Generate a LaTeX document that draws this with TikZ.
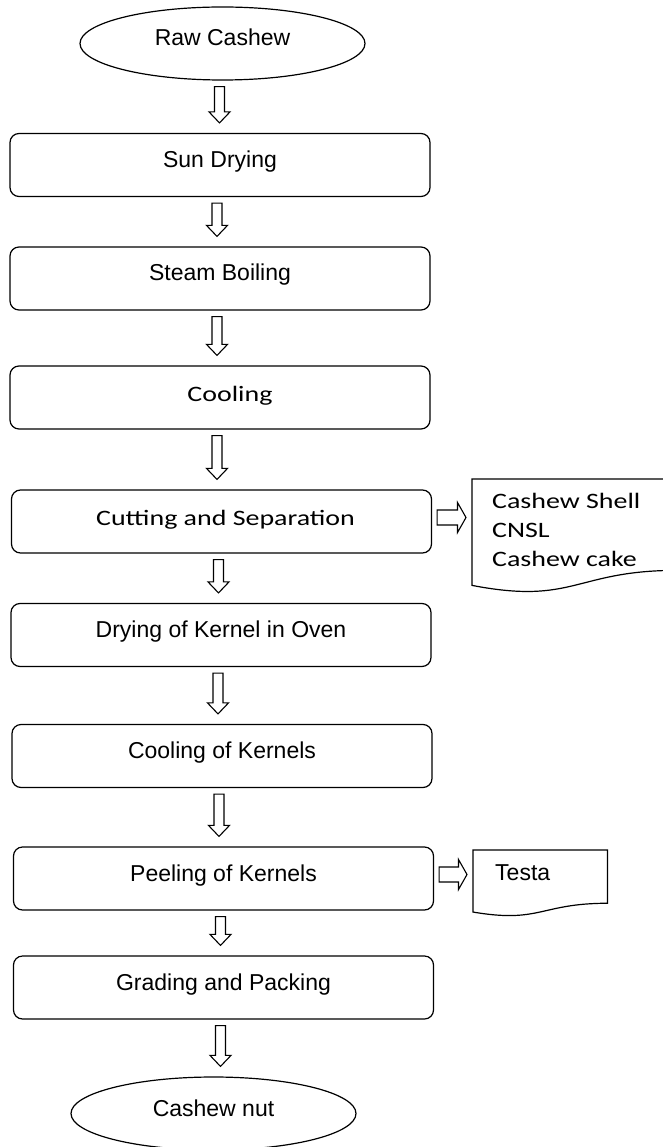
\documentclass[tikz,border=0pt]{standalone}
\usepackage{fontspec}
\usetikzlibrary{shapes.geometric,calc}
\newfontfamily\arialfont{Liberation Sans}
\newfontfamily\calibrifont[FakeStretch=1.27]{Carlito}

% hollow block arrow, downwards from one stage to the next
\newcommand{\downflow}[2]{%
  \draw[flowarrow] let \p1=($(#1.south)+(-3pt,-6pt)$), \p2=($(#2.north)+(-3pt,10pt)$) in
    (\x1-5pt,\y1) -- (\x1+5pt,\y1) -- (\x1+5pt,\y2+11pt) -- (\x1+10.5pt,\y2+11pt)
    -- (\x1,\y2) -- (\x1-10.5pt,\y2+11pt) -- (\x1-5pt,\y2+11pt) -- cycle;}
% hollow block arrow, sideways to a by-product
\newcommand{\sideflow}[2]{%
  \draw[flowarrow] let \p1=($(#1.east)+(5pt,4pt)$), \p2=($(#2.west)+(-6pt,0pt)$) in
    (\x1,\y1-7.5pt) -- (\x1,\y1+7.5pt) -- (\x2-8.5pt,\y1+7.5pt) -- (\x2-8.5pt,\y1+15pt)
    -- (\x2,\y1) -- (\x2-8.5pt,\y1-15pt) -- (\x2-8.5pt,\y1-7.5pt) -- cycle;}

\begin{document}
\begin{tikzpicture}[x=1pt, y=-1pt,
  stage/.style={draw, line width=1.2pt, rounded corners=9pt, minimum width=420pt, minimum height=63pt,
    text height=17pt, text depth=12pt, font=\arialfont\fontsize{23}{27}\selectfont},
  stagecal/.style={stage, text height=20pt, font=\calibrifont\fontsize{22}{29}\selectfont},
  terminal/.style={draw, line width=1.2pt, ellipse, inner sep=0pt, minimum width=285pt, minimum height=73pt,
    text height=17pt, text depth=12pt, font=\arialfont\fontsize{23}{27}\selectfont},
  flowarrow/.style={draw, line width=1.1pt, fill=white, line join=miter},
  docframe/.style={inner sep=0pt, anchor=north west},
  docline/.style={draw, line width=1.2pt, line join=miter}]
  \useasboundingbox (0,0) rectangle (663,1147);
  % Start and end
  \node[terminal] (raw) at (222.5,43.5) {Raw Cashew};
  \node[terminal] (nut) at (213.5,1113.5) {Cashew nut};
  % Process stages
  \node[stage] (sun) at (220,165) {Sun Drying};
  \node[stage] (steam) at (220,278.5) {Steam Boiling};
  \node[stagecal] (cool) at (220,397.5) {\hspace*{20pt}Cooling};
  \node[stagecal] (cut) at (221.5,521.5) {\hspace*{8pt}Cutting and Separation};
  \node[stage] (dry) at (221,635) {Drying of Kernel in Oven};
  \node[stage] (coolk) at (222,756) {Cooling of Kernels};
  \node[stage] (peel) at (223.5,878.5) {Peeling of Kernels};
  \node[stage] (grade) at (223.5,987.5) {Grading and Packing};
  % By-products
  \node[docframe, minimum width=205pt, minimum height=113.5pt] (shell) at (472,479) {};
  \draw[docline] (shell.north west) -- (shell.north east) -- ($(shell.north east)!0.802!(shell.south east)$)
    .. controls ($(shell.north)!0.802!(shell.south)$) and ($(shell.north)!1.108!(shell.south)$)
    .. ($(shell.north west)!0.934!(shell.south west)$) -- cycle;
  \node[anchor=north west, inner sep=0pt, align=left, font=\calibrifont\fontsize{22}{29}\selectfont]
    (shelltext) at (492,493.5) {Cashew Shell\\CNSL\\Cashew cake};
  \node[docframe, minimum width=134pt, minimum height=66pt] (testa) at (473,850) {};
  \draw[docline] (testa.north west) -- (testa.north east) -- ($(testa.north east)!0.802!(testa.south east)$)
    .. controls ($(testa.north)!0.802!(testa.south)$) and ($(testa.north)!1.108!(testa.south)$)
    .. ($(testa.north west)!0.934!(testa.south west)$) -- cycle;
  \node[anchor=base west, inner sep=0pt, font=\arialfont\fontsize{23}{27}\selectfont]
    (testatext) at (495,880) {Testa};
  % Flow
  \downflow{raw}{sun}
  \downflow{sun}{steam}
  \downflow{steam}{cool}
  \downflow{cool}{cut}
  \downflow{cut}{dry}
  \downflow{dry}{coolk}
  \downflow{coolk}{peel}
  \downflow{peel}{grade}
  \downflow{grade}{nut}
  \sideflow{cut}{shell}
  \sideflow{peel}{testa}
\end{tikzpicture}
\end{document}
